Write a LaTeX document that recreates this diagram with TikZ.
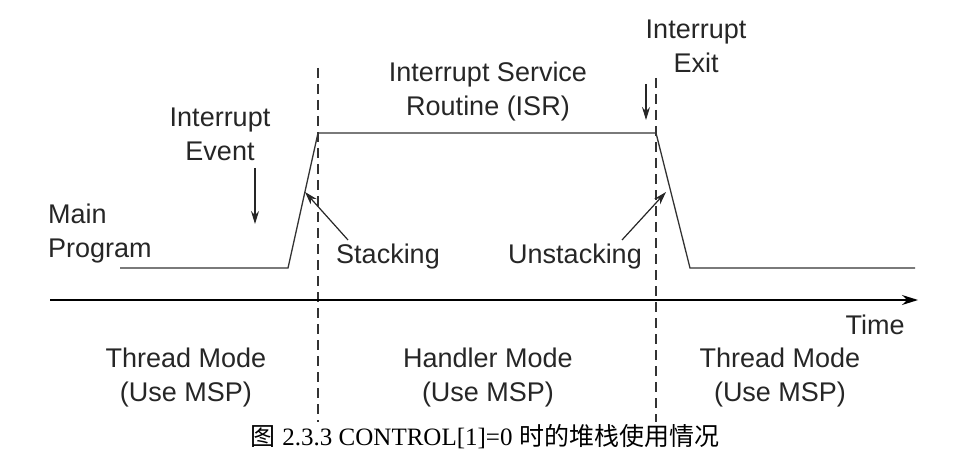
\documentclass[tikz,border=0pt]{standalone}
\usepackage{fontspec}
\setmainfont{Liberation Sans}
\newfontfamily\capfont{Liberation Serif}
\newfontfamily\cjk{Noto Sans CJK SC}
\usetikzlibrary{arrows.meta}
\begin{document}
\begin{tikzpicture}[x=1pt,y=-1pt,
  lbl/.style={font=\fontsize{27}{34}\selectfont, color=black!85, align=center, inner sep=0pt},
  sig/.style={line width=1.3pt, color=black!80},
  dsh/.style={line width=1.4pt, dash pattern=on 10pt off 6pt, color=black!80},
  arr/.style={line width=1.2pt, -{Stealth[length=13pt,width=8pt]}, color=black!85}]
\useasboundingbox (0,0) rectangle (957,457);
\coordinate (s0) at (120,268); \coordinate (s1) at (288,268);
\coordinate (s2) at (318,133); \coordinate (s3) at (656,133);
\coordinate (s4) at (690,268); \coordinate (s5) at (915,268);
\draw[sig] (s0) -- (s1) -- (s2) -- (s3) -- (s4) -- (s5);
\coordinate (d1a) at (318,68); \coordinate (d1b) at (318,422);
\coordinate (d2a) at (656,78); \coordinate (d2b) at (656,422);
\draw[dsh] (d1a) -- (d1b); \draw[dsh] (d2a) -- (d2b);
\coordinate (t0) at (50,300); \coordinate (t1) at (918,300);
\draw[line width=1.5pt, -{Stealth[length=16pt,width=10pt]}] (t0) -- (t1);
\node[lbl, align=left, anchor=west] (mp) at (48,234) {Main\\Program};
\node[lbl] (ie) at (220,134) {Interrupt\\Event};
\node[lbl] (isr) at (488,92) {Interrupt Service\\Routine (ISR)};
\node[lbl] (ix) at (696,46) {Interrupt\\Exit};
\node[lbl] (st) at (388,257) {Stacking};
\node[lbl] (us) at (575,257) {Unstacking};
\node[lbl] (tm) at (875,325) {Time};
\node[lbl] (th1) at (186,378) {Thread Mode\\(Use MSP)};
\node[lbl] (hm) at (488,378) {Handler Mode\\(Use MSP)};
\node[lbl] (th2) at (780,378) {Thread Mode\\(Use MSP)};
\node[font=\fontsize{25}{26}\selectfont, inner sep=0pt] (cap) at (485,437) {{\cjk 图} {\capfont 2.3.3 CONTROL[1]=0} {\cjk 时的堆栈使用情况}};
\coordinate (a1s) at (255,168); \coordinate (a1e) at (255,224);
\draw[arr] (a1s) -- (a1e);
\coordinate (a2s) at (646,84); \coordinate (a2e) at (646,120);
\draw[arr] (a2s) -- (a2e);
\coordinate (a3s) at (348,240); \coordinate (a3e) at (305,192);
\draw[arr] (a3s) -- (a3e);
\coordinate (a4s) at (622,240); \coordinate (a4e) at (666,192);
\draw[arr] (a4s) -- (a4e);
\end{tikzpicture}
\end{document}
